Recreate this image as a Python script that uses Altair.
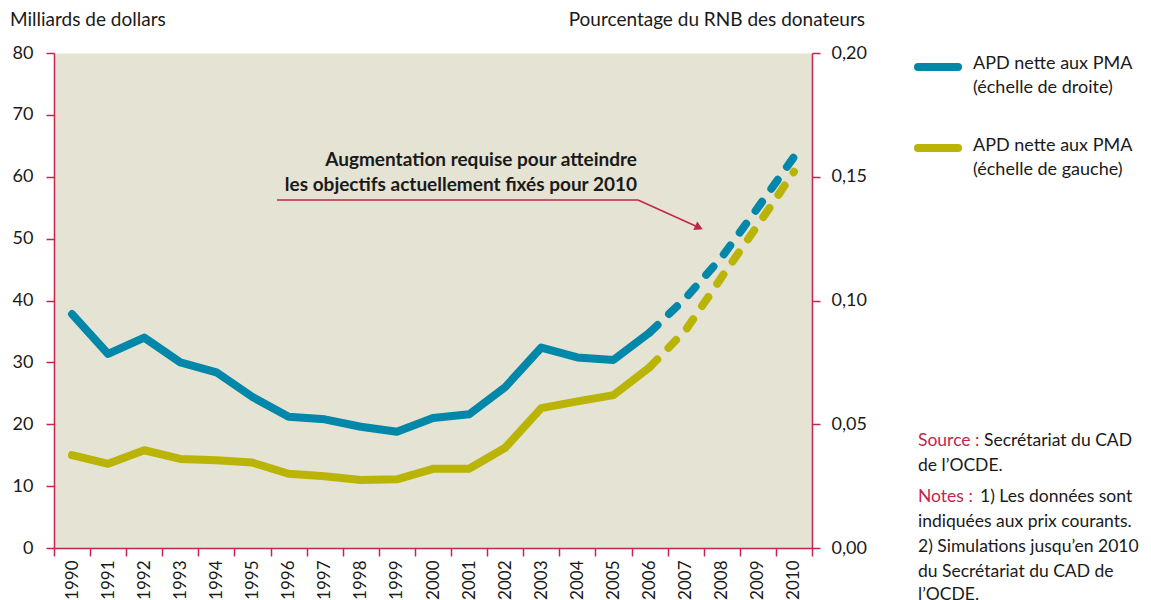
import altair as alt
import pandas as pd

years = [str(y) for y in range(1990, 2011)]
hist_years = years[:17]          # 1990-2006
proj_years = years[16:]          # 2006-2010

# % of donors' GNI (right scale)
gni_hist = [0.0945, 0.0784, 0.085, 0.075, 0.071, 0.061, 0.053, 0.052, 0.049, 0.047,
            0.0525, 0.054, 0.065, 0.081, 0.077, 0.076, 0.087]
gni_proj = [0.087, 0.101, 0.1175, 0.1375, 0.158]

# billions of dollars (left scale)
usd_hist = [15.0, 13.6, 15.8, 14.4, 14.2, 13.8, 12.0, 11.6, 11.0, 11.1,
            12.8, 12.8, 16.2, 22.6, 23.7, 24.7, 29.2]
usd_proj = [29.2, 35.2, 43.8, 52.2, 60.8]

left_ticks = [0, 10, 20, 30, 40, 50, 60, 70, 80]
right_ticks = [0, 0.05, 0.10, 0.15, 0.20]

legend_labels = [["APD nette aux PMA", "(échelle de droite)"],
                 ["APD nette aux PMA", "(échelle de gauche)"]]
annotation_lines = ["Augmentation requise pour atteindre",
                    "les objectifs actuellement fixés pour 2010"]
left_title = "Milliards de dollars"
right_title = "Pourcentage du RNB des donateurs"

FONT = "Lato"
BLUE = "#0087A9"
OLIVE = "#B9B406"
CRIMSON = "#C2264E"
BG = "#E5E3D3"
TXT = "#1A1A1A"

W, H = 758, 495

x_axis = alt.Axis(title=None, labelAngle=270, tickBand="extent", tickSize=8,
                  tickColor=CRIMSON, tickWidth=1.5, domainColor=CRIMSON, domainWidth=1.5,
                  labelFontSize=17, labelColor=TXT, labelPadding=4, labelFont=FONT, grid=False)
x_enc = alt.X("year:O", scale=alt.Scale(domain=years, paddingInner=0, paddingOuter=0), axis=x_axis)

left_axis = alt.Axis(title=None, values=left_ticks, tickSize=8, tickColor=CRIMSON, tickWidth=1.5,
                     domainColor=CRIMSON, domainWidth=1.5, labelFontSize=18, labelColor=TXT,
                     labelPadding=13, labelFont=FONT, grid=False, orient="left")
right_axis = alt.Axis(title=None, values=right_ticks, tickSize=8, tickColor=CRIMSON, tickWidth=1.5,
                      domainColor=CRIMSON, domainWidth=1.5, labelFontSize=18, labelColor=TXT,
                      labelPadding=11, labelFont=FONT, grid=False, orient="right",
                      labelExpr="replace(format(datum.value, '.2f'), '.', ',')")

usd_h = pd.DataFrame({"year": hist_years, "v": usd_hist})
usd_p = pd.DataFrame({"year": proj_years, "v": usd_proj})
gni_h = pd.DataFrame({"year": hist_years, "v": gni_hist})
gni_p = pd.DataFrame({"year": proj_years, "v": gni_proj})

lscale = alt.Scale(domain=[0, 80], nice=False)
rscale = alt.Scale(domain=[0, 0.2], nice=False)

line_kw = dict(strokeWidth=8, strokeCap="round", strokeJoin="round")
dash = [11, 16]

olive_s = alt.Chart(usd_h).mark_line(color=OLIVE, **line_kw).encode(
    x=x_enc, y=alt.Y("v:Q", scale=lscale, axis=left_axis))
olive_d = alt.Chart(usd_p).mark_line(color=OLIVE, strokeDash=dash, **line_kw).encode(
    x=x_enc, y=alt.Y("v:Q", scale=lscale, axis=None))
blue_s = alt.Chart(gni_h).mark_line(color=BLUE, **line_kw).encode(
    x=x_enc, y=alt.Y("v:Q", scale=rscale, axis=right_axis))
blue_d = alt.Chart(gni_p).mark_line(color=BLUE, strokeDash=dash, **line_kw).encode(
    x=x_enc, y=alt.Y("v:Q", scale=rscale, axis=None))

one = pd.DataFrame({"a": [0]})


def text(t, x, y, size=19, color=TXT, align="left", weight="normal"):
    return alt.Chart(one).mark_text(text=t, align=align, baseline="middle", fontSize=size,
                                    color=color, font=FONT, fontWeight=weight).encode(
        x=alt.value(x), y=alt.value(y))


def rule(x, x2, y, y2, color, width, cap="butt"):
    return alt.Chart(one).mark_rule(color=color, strokeWidth=width, strokeCap=cap).encode(
        x=alt.value(x), x2=alt.value(x2), y=alt.value(y), y2=alt.value(y2))


layers = [olive_s, olive_d, blue_s, blue_d]

# axis titles
layers.append(text(left_title, -44, -33, 19))
layers.append(text(right_title, 811, -33, 19, align="right"))

# legend
layers.append(rule(864, 904, 14, 14, BLUE, 8, "round"))
layers.append(rule(864, 904, 95, 95, OLIVE, 8, "round"))
layers.append(text(legend_labels[0][0], 919, 11, 18))
layers.append(text(legend_labels[0][1], 919, 35, 18))
layers.append(text(legend_labels[1][0], 919, 93, 18))
layers.append(text(legend_labels[1][1], 919, 117, 18))

# annotation
layers.append(text(annotation_lines[0], 583, 107, 19, align="right", weight="bold"))
layers.append(text(annotation_lines[1], 583, 132, 19, align="right", weight="bold"))
layers.append(rule(223, 584, 147, 147, CRIMSON, 1.5))
layers.append(rule(584, 646, 147, 175, CRIMSON, 1.5))
layers.append(alt.Chart(one).mark_point(shape="triangle-right", angle=24.5, size=90, filled=True,
                                        color=CRIMSON, opacity=1).encode(
    x=alt.value(645), y=alt.value(174.5)))

# source & notes
NS = 17.5
layers.append(text("Source :", 864, 388, NS, color=CRIMSON))
layers.append(text("Secrétariat du CAD", 930, 388, NS))
layers.append(text("de l’OCDE.", 864, 413, NS))
layers.append(text("Notes :", 864, 444, NS, color=CRIMSON))
layers.append(text("1) Les données sont", 926, 444, NS))
layers.append(text("indiquées aux prix courants.", 864, 469, NS))
layers.append(text("2) Simulations jusqu’en 2010", 864, 494, NS))
layers.append(text("du Secrétariat du CAD de", 864, 519, NS))
layers.append(text("l’OCDE.", 864, 542, NS))

chart = alt.layer(*layers).resolve_scale(y="independent").properties(
    width=W, height=H,
    autosize=alt.AutoSizeParams(type="none"),
    padding={"left": 46, "top": 45, "right": 331, "bottom": 52},
).configure_view(fill=BG, stroke="transparent")

chart.save("out.html", embed_options={"renderer": "svg", "actions": False})
